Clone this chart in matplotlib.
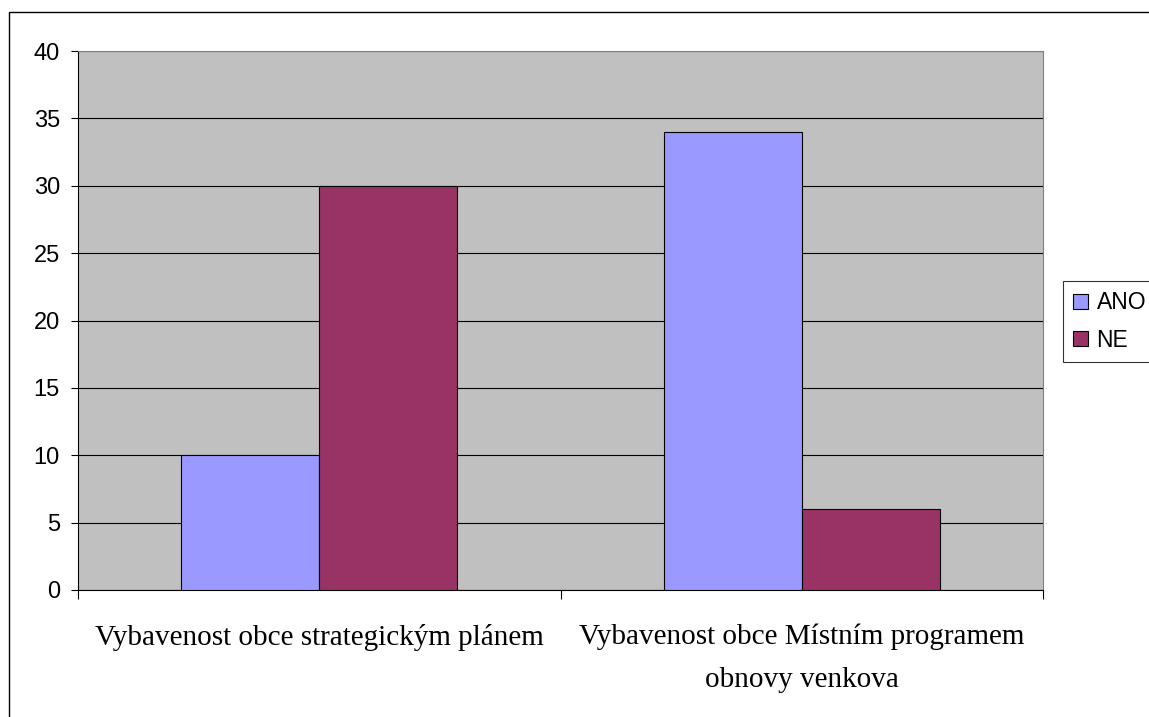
import numpy as np
import matplotlib.pyplot as plt
from matplotlib.patches import Rectangle

# data
categories = ['Vybavenost obce strategickým plánem',
              'Vybavenost obce Místním programem\nobnovy venkova']
ano = [10, 34]
ne = [30, 6]
series_names = ['ANO', 'NE']
y_ticks = [0, 5, 10, 15, 20, 25, 30, 35, 40]

fig = plt.figure(figsize=(11.49, 7.17), dpi=100)
W, H = 1149, 717
# plot area in pixels: left 78, right 1043, top 51, bottom 590
ax = fig.add_axes([78 / W, 1 - 590 / H, (1043 - 78) / W, (590 - 51) / H])
ax.set_facecolor('#C0C0C0')

x = np.arange(len(categories))
w = 2 / 7
ax.bar(x - w / 2, ano, w, color='#9999FF', edgecolor='black', linewidth=0.8, zorder=3, label=series_names[0])
ax.bar(x + w / 2, ne, w, color='#993366', edgecolor='black', linewidth=0.8, zorder=3, label=series_names[1])

ax.set_xlim(-0.5, len(categories) - 0.5)
ax.set_ylim(0, 40)
ax.set_yticks(y_ticks)
ax.yaxis.grid(True, color='black', linewidth=0.8, zorder=1)
ax.set_axisbelow(True)
for lab in ax.get_yticklabels():
    lab.set_fontfamily('Liberation Sans')
    lab.set_fontsize(17)
ax.tick_params(axis='y', length=5, width=0.8, pad=8)

# category boundary ticks on x
ax.set_xticks([-0.5, 0.5, 1.5])
ax.set_xticklabels([])
ax.tick_params(axis='x', length=6.5, width=0.8)
for i, c in enumerate(categories):
    ax.text(i, -2.5, c, ha='center', va='top', fontsize=21, family='Liberation Serif',
            linespacing=1.85)

ax.spines['top'].set_color('#808080')
ax.spines['right'].set_color('#808080')
ax.spines['left'].set_color('black')
ax.spines['bottom'].set_color('black')
for s in ax.spines.values():
    s.set_linewidth(0.8)

leg = fig.legend(loc='upper left', bbox_to_anchor=(1063 / W, 1 - 281 / H),
                 prop={'family': 'Liberation Sans', 'size': 16.5},
                 frameon=True, fancybox=False, edgecolor='black', handlelength=0.66,
                 handleheight=0.66, handletextpad=0.35, borderpad=0.45, labelspacing=0.62,
                 borderaxespad=0)
leg.get_frame().set_linewidth(0.8)

# outer chart border
fig.patches.append(Rectangle((9 / W, -0.1), 1.2, 1 - 12 / H + 0.1, transform=fig.transFigure,
                             fill=False, edgecolor='black', linewidth=1.0))

fig.savefig('out.png', dpi=100)
